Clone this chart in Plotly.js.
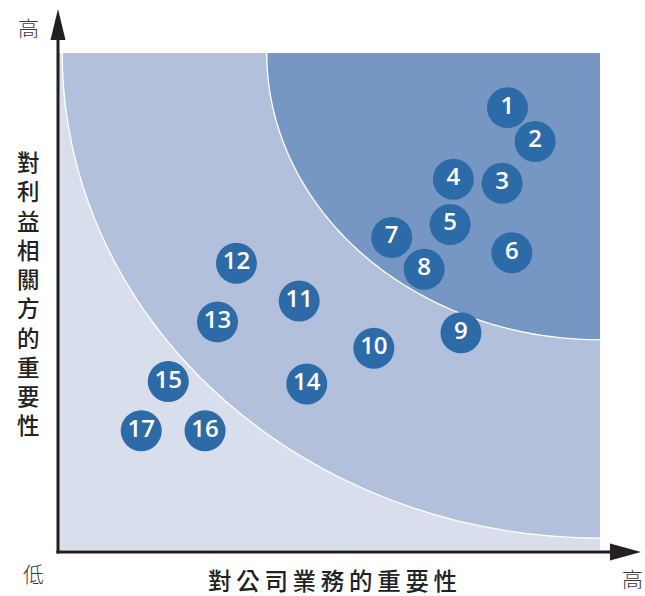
<!DOCTYPE html>
<html>
<head>
<meta charset="utf-8">
<script src="https://cdn.plot.ly/plotly-3.0.1.min.js"></script>
<style>
html,body{margin:0;padding:0;background:#fff;}
#chart{width:645px;height:596px;}
</style>
</head>
<body>
<div id="chart"></div>
<script>
// ---- data ----
const issueIds = ['1','2','3','4','5','6','7','8','9','10','11','12','13','14','15','16','17'];
const businessImportance = [8.29, 8.80, 8.19, 7.29, 7.23, 8.37, 6.15, 6.75, 7.43, 5.82, 4.44, 3.28, 2.93, 4.58, 2.02, 2.70, 1.52];
const stakeholderImportance = [8.90, 8.22, 7.38, 7.46, 6.55, 5.98, 6.29, 5.65, 4.37, 4.06, 5.01, 5.77, 4.59, 3.34, 3.39, 2.40, 2.40];
const xTitle = '對公司業務的重要性';
const yTitle = '對利益相關方的重要性';
const highLabel = '高';
const lowLabel = '低';

// zone boundaries: quarter ellipses centred at the top-right corner (10,10)
const outerZone = {rx: 9.94, ry: 9.76};
const innerZone = {rx: 6.16, ry: 5.77};

// ---- layout geometry ----
const W = 645, H = 596;
const M = {l: 59, r: 45, t: 53, b: 46};
const PW = W - M.l - M.r, PH = H - M.t - M.b;
const px = v => (v - M.l) / PW;          // pixel -> paper x
const py = v => (H - M.b - v) / PH;      // pixel -> paper y

function arcPoints(z) {
  const pts = [];
  const n = 90;
  for (let i = 0; i <= n; i++) {
    const a = Math.PI + (Math.PI / 2) * i / n; // 180deg -> 270deg
    pts.push([10 + z.rx * Math.cos(a), 10 + z.ry * Math.sin(a)]);
  }
  return pts;
}
function arcPath(z, closed) {
  const pts = arcPoints(z);
  let d = 'M' + pts.map(p => p[0].toFixed(4) + ',' + p[1].toFixed(4)).join(' L');
  if (closed) d += ' L10,10 Z';
  return d;
}

const axisColor = '#231f20';
const shapes = [
  // lightest background
  {type: 'rect', xref: 'paper', yref: 'paper', x0: 0, x1: 1, y0: 0, y1: 1,
   fillcolor: '#d8deeb', line: {width: 0}, layer: 'below'},
  // medium zone
  {type: 'path', xref: 'x', yref: 'y', path: arcPath(outerZone, true),
   fillcolor: '#b2c0dc', line: {width: 0}, layer: 'below'},
  // dark zone
  {type: 'path', xref: 'x', yref: 'y', path: arcPath(innerZone, true),
   fillcolor: '#7696c4', line: {width: 0}, layer: 'below'},
  // white arc lines
  {type: 'path', xref: 'x', yref: 'y', path: arcPath(outerZone, false),
   fillcolor: 'rgba(0,0,0,0)', line: {color: '#ffffff', width: 1.3}, layer: 'below'},
  {type: 'path', xref: 'x', yref: 'y', path: arcPath(innerZone, false),
   fillcolor: 'rgba(0,0,0,0)', line: {color: '#ffffff', width: 1.3}, layer: 'below'},
  // y axis arrow
  {type: 'line', xref: 'paper', yref: 'paper', x0: px(58), x1: px(58), y0: py(553.5), y1: py(36),
   line: {color: axisColor, width: 3}, layer: 'above'},
  {type: 'path', xref: 'paper', yref: 'paper',
   path: `M${px(58)},${py(9)} L${px(50.5)},${py(40)} L${px(65.5)},${py(40)} Z`,
   fillcolor: axisColor, line: {width: 0}, layer: 'above'},
  // x axis arrow
  {type: 'line', xref: 'paper', yref: 'paper', x0: px(56.5), x1: px(614), y0: py(552), y1: py(552),
   line: {color: axisColor, width: 3}, layer: 'above'},
  {type: 'path', xref: 'paper', yref: 'paper',
   path: `M${px(641)},${py(552)} L${px(610)},${py(543.5)} L${px(610)},${py(560.5)} Z`,
   fillcolor: axisColor, line: {width: 0}, layer: 'above'}
];

const cjk = '"Noto Sans CJK TC", "Noto Sans CJK SC", sans-serif';
const annotations = [
  {xref: 'paper', yref: 'paper', x: px(28), y: py(27), text: highLabel, showarrow: false,
   xanchor: 'center', yanchor: 'middle', font: {family: cjk, size: 21, color: '#3a3a3a', weight: 300}},
  {xref: 'paper', yref: 'paper', x: px(33), y: py(573), text: lowLabel, showarrow: false,
   xanchor: 'center', yanchor: 'middle', font: {family: cjk, size: 21, color: '#3a3a3a', weight: 300}},
  {xref: 'paper', yref: 'paper', x: px(632), y: py(578), text: highLabel, showarrow: false,
   xanchor: 'center', yanchor: 'middle', font: {family: cjk, size: 21, color: '#3a3a3a', weight: 300}},
  {xref: 'paper', yref: 'paper', x: px(332), y: py(580), text: xTitle.split('').join('\u2009'), showarrow: false,
   xanchor: 'center', yanchor: 'middle', font: {family: cjk, size: 23.5, color: '#222222', weight: 500}},
  {xref: 'paper', yref: 'paper', x: px(28), y: py(292), text: yTitle.split('').join('<br>'), showarrow: false,
   xanchor: 'center', yanchor: 'middle', font: {family: cjk, size: 22.5, color: '#222222', weight: 500}}
];

const trace = {
  type: 'scatter',
  mode: 'markers+text',
  x: businessImportance,
  y: stakeholderImportance,
  text: issueIds,
  textposition: 'middle center',
  textfont: {family: '"Open Sans", sans-serif', size: 24, color: '#ffffff', weight: 600},
  marker: {size: 41, color: '#2d6ba8', line: {width: 0}},
  hoverinfo: 'skip',
  cliponaxis: false
};

const layout = {
  width: W, height: H,
  margin: M,
  paper_bgcolor: '#ffffff',
  plot_bgcolor: 'rgba(0,0,0,0)',
  showlegend: false,
  xaxis: {range: [0, 10], showgrid: false, zeroline: false, showline: false, showticklabels: false, ticks: '', fixedrange: true},
  yaxis: {range: [0, 10], showgrid: false, zeroline: false, showline: false, showticklabels: false, ticks: '', fixedrange: true},
  shapes: shapes,
  annotations: annotations
};

Plotly.newPlot('chart', [trace], layout, {displayModeBar: false, staticPlot: true});
</script>
</body>
</html>
